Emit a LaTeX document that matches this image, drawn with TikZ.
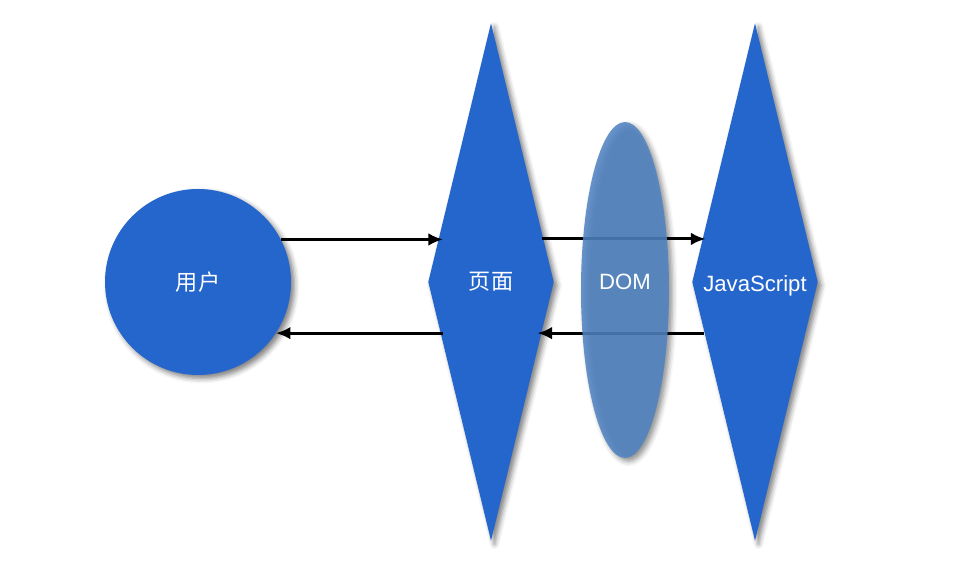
\documentclass[tikz,border=0pt]{standalone}
\usepackage{fontspec}
\setmainfont{Liberation Sans}
\newfontfamily\cjk{Noto Sans CJK SC}
\usepackage{tikz}
\usetikzlibrary{arrows.meta,positioning,calc,shapes.geometric,shadows.blur}
\definecolor{nodeblue}{HTML}{2566CC}
\definecolor{domblue}{HTML}{4F83C3}

\begin{document}
\begin{tikzpicture}[
  shade/.style={blur shadow={shadow xshift=0.035cm, shadow yshift=-0.035cm,
                shadow blur radius=0.05cm, shadow opacity=50}},
  txt/.style={text=white, font=\fontsize{6.3}{7.5}\selectfont},
  user/.style={circle, fill=nodeblue, shade, minimum size=1.86cm, inner sep=0pt,
               text=white, font=\fontsize{6.3}{7.5}\selectfont\cjk},
  tall/.style={diamond, fill=nodeblue, shade, minimum width=1.26cm,
               minimum height=5.18cm, inner sep=0pt},
  dom/.style={ellipse, fill=domblue, fill opacity=0.86, shade, minimum width=0.88cm,
              minimum height=3.36cm, inner sep=0pt},
  arrow/.style={-{Latex[length=4.2pt, width=3.6pt]}, line width=0.85pt, draw=black}
]
  \useasboundingbox (0,0) rectangle (9.61,5.61);
  \node[user] (yonghu) at (1.98,2.79) {用户};
  \node[tall, label={[txt]center:\cjk 页面}] (page) at (4.91,2.79) {};
  \node[tall, label={[txt, yshift=-0.035cm]center:JavaScript}] (js) at (7.55,2.79) {};
  \draw[arrow] (yonghu.27.5) -- ($(yonghu.27.5 -| page.140)+(0.05,0)$);
  \draw[arrow] ($(page.39.6)+(-0.02,0)$) -- ($(page.39.6 -| js.140.4)+(0.035,0)$);
  \draw[arrow] (js.225.9) -- ($(js.225.9 -| page.314.1)+(-0.045,0)$);
  \draw[arrow] ($(page.225.9)+(0.03,0)$) -- (page.225.9 -| yonghu.-34);
  \node[dom, label={[txt, yshift=0.08cm]center:DOM}] (domnode) at (6.25,2.71) {};
\end{tikzpicture}
\end{document}
